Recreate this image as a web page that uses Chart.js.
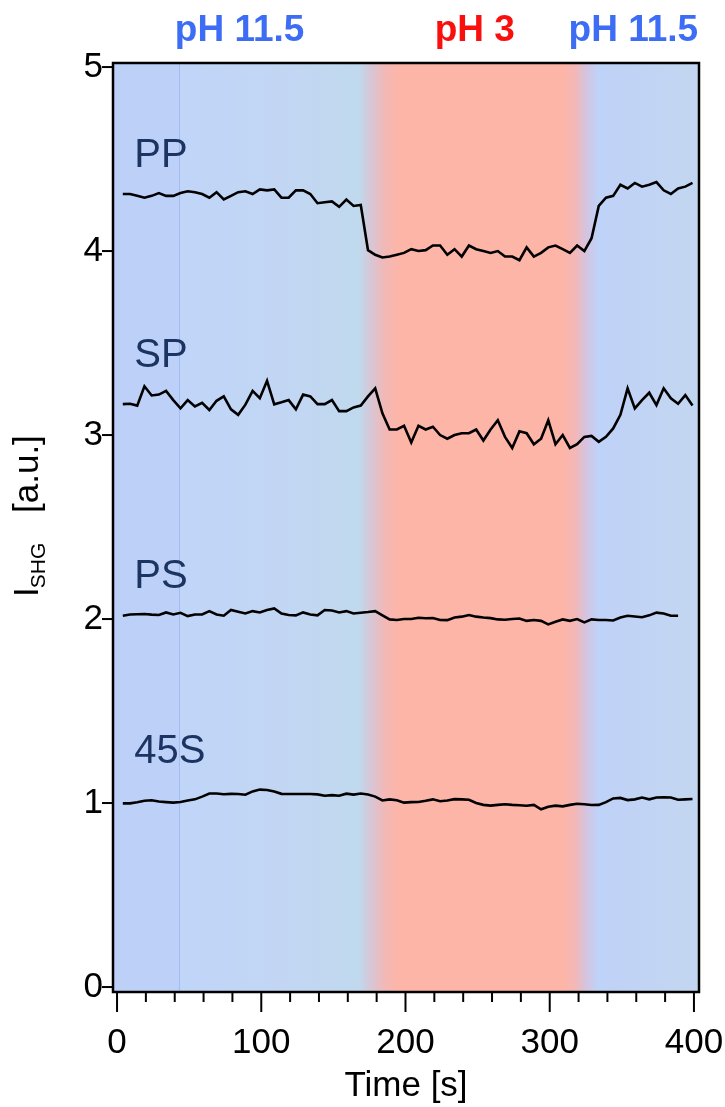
<!DOCTYPE html>
<html>
<head>
<meta charset="utf-8">
<script src="https://cdn.jsdelivr.net/npm/chart.js@4"></script>
<style>
  html, body { margin: 0; padding: 0; background: #fff; }
  canvas { display: block; }
</style>
</head>
<body>
<canvas id="shgChart" width="725" height="1107"></canvas>
<script>
// time axis (s)
const times = [4, 9, 14, 19, 24, 29, 34, 39, 44, 49, 54, 59, 64, 69, 74, 79, 84, 89, 94, 99,
  104, 109, 114, 119, 124, 129, 134, 139, 144, 149, 154, 159, 164, 169, 174, 179, 184, 189, 194, 199,
  204, 209, 214, 219, 224, 229, 234, 239, 244, 249, 254, 259, 264, 269, 274, 279, 284, 289, 294, 299,
  304, 309, 314, 319, 324, 329, 334, 339, 344, 349, 354, 359, 364, 369, 374, 379, 384, 389, 394, 399];

const ppValues = [4.31, 4.31, 4.30, 4.29, 4.30, 4.315, 4.30, 4.30, 4.315, 4.325,
  4.32, 4.31, 4.29, 4.32, 4.28, 4.30, 4.32, 4.325, 4.31, 4.335,
  4.33, 4.335, 4.29, 4.29, 4.33, 4.33, 4.31, 4.26, 4.265, 4.27,
  4.24, 4.28, 4.245, 4.25, 4.005, 3.98, 3.965, 3.97, 3.98, 3.99,
  4.01, 4.0, 4.005, 4.03, 4.03, 3.98, 4.01, 3.97, 4.03, 4.01,
  4.0, 3.99, 4.0, 3.97, 3.97, 3.95, 4.02, 3.97, 3.99, 4.02,
  4.03, 4.01, 3.99, 4.03, 4.0, 4.07, 4.245, 4.29, 4.30, 4.36,
  4.34, 4.37, 4.35, 4.36, 4.375, 4.33, 4.31, 4.34, 4.35, 4.37];

const spValues = [3.168, 3.17, 3.16, 3.265, 3.215, 3.22, 3.24, 3.19, 3.145, 3.19,
  3.155, 3.175, 3.136, 3.186, 3.21, 3.14, 3.11, 3.165, 3.24, 3.20,
  3.295, 3.167, 3.178, 3.19, 3.14, 3.22, 3.21, 3.168, 3.168, 3.19,
  3.13, 3.13, 3.15, 3.16, 3.21, 3.254, 3.118, 3.03, 3.03, 3.05,
  2.96, 3.05, 3.03, 3.045, 3.0, 2.98, 3.0, 3.01, 3.01, 3.03,
  2.97, 3.03, 3.08, 2.99, 2.93, 3.02, 3.01, 2.95, 2.98, 3.08,
  2.95, 3.0, 2.93, 2.95, 2.99, 2.995, 2.963, 2.99, 3.036, 3.11,
  3.254, 3.145, 3.19, 3.23, 3.163, 3.254, 3.20, 3.17, 3.217, 3.16];

const psValues = [2.018, 2.025, 2.026, 2.027, 2.024, 2.022, 2.036, 2.025, 2.034, 2.016,
  2.025, 2.025, 2.043, 2.025, 2.018, 2.049, 2.04, 2.03, 2.043, 2.036,
  2.049, 2.058, 2.03, 2.022, 2.02, 2.036, 2.025, 2.02, 2.049, 2.046,
  2.036, 2.043, 2.03, 2.034, 2.038, 2.043, 2.02, 1.998, 1.995, 2.0,
  2.0, 2.007, 2.004, 2.006, 1.995, 1.994, 2.008, 2.013, 2.022, 2.013,
  2.008, 2.005, 1.998, 1.996, 2.0, 2.003, 1.99, 1.995, 1.99, 1.971,
  1.985, 1.998, 1.99, 2.0, 1.982, 1.998, 1.995, 1.995, 1.992, 2.008,
  2.018, 2.014, 2.01, 2.02, 2.035, 2.03, 2.018, 2.018, null, null];

const s45Values = [0.998, 0.998, 1.004, 1.012, 1.015, 1.008, 1.005, 1.002, 1.006, 1.014,
  1.02, 1.035, 1.052, 1.052, 1.048, 1.05, 1.049, 1.045, 1.063, 1.073,
  1.071, 1.063, 1.05, 1.049, 1.049, 1.049, 1.049, 1.047, 1.04, 1.043,
  1.04, 1.051, 1.046, 1.052, 1.046, 1.035, 1.014, 1.02, 1.015, 1.002,
  1.005, 1.006, 1.012, 1.02, 1.01, 1.014, 1.021, 1.02, 1.018, 1.0,
  0.99, 0.986, 0.99, 0.993, 0.99, 0.988, 0.985, 0.99, 0.966, 0.98,
  0.986, 0.982, 0.99, 0.996, 0.993, 0.989, 0.99, 1.005, 1.025, 1.028,
  1.016, 1.02, 1.03, 1.02, 1.03, 1.031, 1.03, 1.018, 1.02, 1.022];

const seriesNames = ["PP", "SP", "PS", "45S"];
const seriesLabelPos = [[12, 4.457], [12, 3.37], [12, 2.168], [12, 1.217]]; // [time, intensity]

const xTicks = [0, 100, 200, 300, 400];
const xMinorStep = 20;
const yTicks = [0, 1, 2, 3, 4, 5];

// pH phases shown above the plot: [label, time at centre, colour]
const phLabels = [["pH 11.5", 85, "#3c6df4"], ["pH 3", 248, "#fa0f0f"], ["pH 11.5", 358, "#3c6df4"]];

// background colour along time (s)
const bgStops = [
  [-3, "#bdd0f8"], [43, "#bdd1f8"], [43.2, "#c0d5f8"], [110, "#c2d6f4"], [150, "#c1d8f0"],
  [168, "#c0d9ed"], [176, "#d7c6d6"], [186, "#f2b8b5"], [195, "#fdb5a8"],
  [310, "#fdb5a8"], [318, "#f2b8b8"], [325, "#d6c3de"], [333, "#bfd2f8"], [404, "#c3d6f0"]
];
const markerTime = 43;

const FONT = "'Liberation Sans', Arial, Helvetica, sans-serif";

const backdrop = {
  id: "backdrop",
  beforeDatasetsDraw(chart) {
    const { ctx, chartArea: a, scales: { x } } = chart;
    const g = ctx.createLinearGradient(a.left, 0, a.right, 0);
    bgStops.forEach(([t, c]) => {
      const p = Math.min(1, Math.max(0, (x.getPixelForValue(t) - a.left) / (a.right - a.left)));
      g.addColorStop(p, c);
    });
    ctx.save();
    ctx.fillStyle = g;
    ctx.fillRect(a.left, a.top, a.width, a.height);
    const lx = Math.round(x.getPixelForValue(markerTime)) + 0.5;
    ctx.strokeStyle = "#a4bdf0";
    ctx.lineWidth = 1;
    ctx.beginPath();
    ctx.moveTo(lx, a.top);
    ctx.lineTo(lx, a.bottom);
    ctx.stroke();
    ctx.restore();
  },
  afterDraw(chart) {
    const { ctx, chartArea: a, scales: { x, y } } = chart;
    ctx.save();
    // frame
    ctx.strokeStyle = "#000";
    ctx.lineWidth = 2.5;
    ctx.strokeRect(a.left, a.top, a.width, a.height);
    // y ticks
    ctx.lineWidth = 2;
    yTicks.forEach(v => {
      const py = y.getPixelForValue(v);
      ctx.beginPath(); ctx.moveTo(a.left - 11, py); ctx.lineTo(a.left, py); ctx.stroke();
    });
    // x ticks, major and minor
    for (let t = xTicks[0]; t <= xTicks[xTicks.length - 1]; t += xMinorStep) {
      const px = x.getPixelForValue(t);
      const len = xTicks.includes(t) ? 20 : 10;
      ctx.beginPath(); ctx.moveTo(px, a.bottom); ctx.lineTo(px, a.bottom + len); ctx.stroke();
    }
    // series names
    ctx.fillStyle = "#1c3461";
    ctx.font = "40px " + FONT;
    ctx.textAlign = "left";
    ctx.textBaseline = "alphabetic";
    seriesNames.forEach((n, i) => {
      ctx.fillText(n, x.getPixelForValue(seriesLabelPos[i][0]), y.getPixelForValue(seriesLabelPos[i][1]));
    });
    // pH labels
    ctx.font = "bold 37px " + FONT;
    ctx.textAlign = "center";
    phLabels.forEach(([txt, t, c]) => {
      ctx.fillStyle = c;
      ctx.fillText(txt, x.getPixelForValue(t), a.top - 22);
    });
    // y-axis title with subscript
    ctx.fillStyle = "#000";
    ctx.translate(38, 597);
    ctx.rotate(-Math.PI / 2);
    ctx.textAlign = "left";
    ctx.font = "35px " + FONT;
    ctx.fillText("I", 0, 0);
    const wI = ctx.measureText("I").width;
    ctx.font = "21px " + FONT;
    ctx.fillText("SHG", wI - 1, 7);
    ctx.font = "35px " + FONT;
    ctx.fillText("[a.u.]", 84, 0);
    ctx.restore();
  }
};

new Chart(document.getElementById("shgChart").getContext("2d"), {
  type: "line",
  data: {
    labels: times,
    datasets: [ppValues, spValues, psValues, s45Values].map((vals, i) => ({
      label: seriesNames[i],
      data: times.map((t, k) => ({ x: t, y: vals[k] })),
      borderColor: "#000",
      borderWidth: 2.6,
      pointRadius: 0,
      tension: 0,
      fill: false,
      spanGaps: false
    }))
  },
  options: {
    responsive: false,
    animation: false,
    devicePixelRatio: 1,
    layout: { padding: { top: 63, right: 26, left: 0, bottom: 0 } },
    plugins: { legend: { display: false }, tooltip: { enabled: false } },
    scales: {
      x: {
        type: "linear",
        min: -2.8,
        max: 403.5,
        grid: { display: false, drawTicks: false },
        border: { display: false },
        afterBuildTicks: s => { s.ticks = xTicks.map(v => ({ value: v })); },
        afterFit: s => { s.height = 115; s.paddingLeft = 0; s.paddingRight = 0; },
        ticks: { color: "#000", font: { family: FONT, size: 35 }, padding: 30, maxRotation: 0 },
        title: { display: true, text: "Time [s]", color: "#000", font: { family: FONT, size: 35 }, padding: 0 }
      },
      y: {
        min: -0.027,
        max: 5.022,
        grid: { display: false, drawTicks: false },
        border: { display: false },
        afterBuildTicks: s => { s.ticks = yTicks.map(v => ({ value: v })); },
        afterFit: s => { s.width = 113; s.paddingTop = 0; s.paddingBottom = 0; },
        ticks: { color: "#000", font: { family: FONT, size: 35 }, padding: 10 }
      }
    }
  },
  plugins: [backdrop]
});
</script>
</body>
</html>
